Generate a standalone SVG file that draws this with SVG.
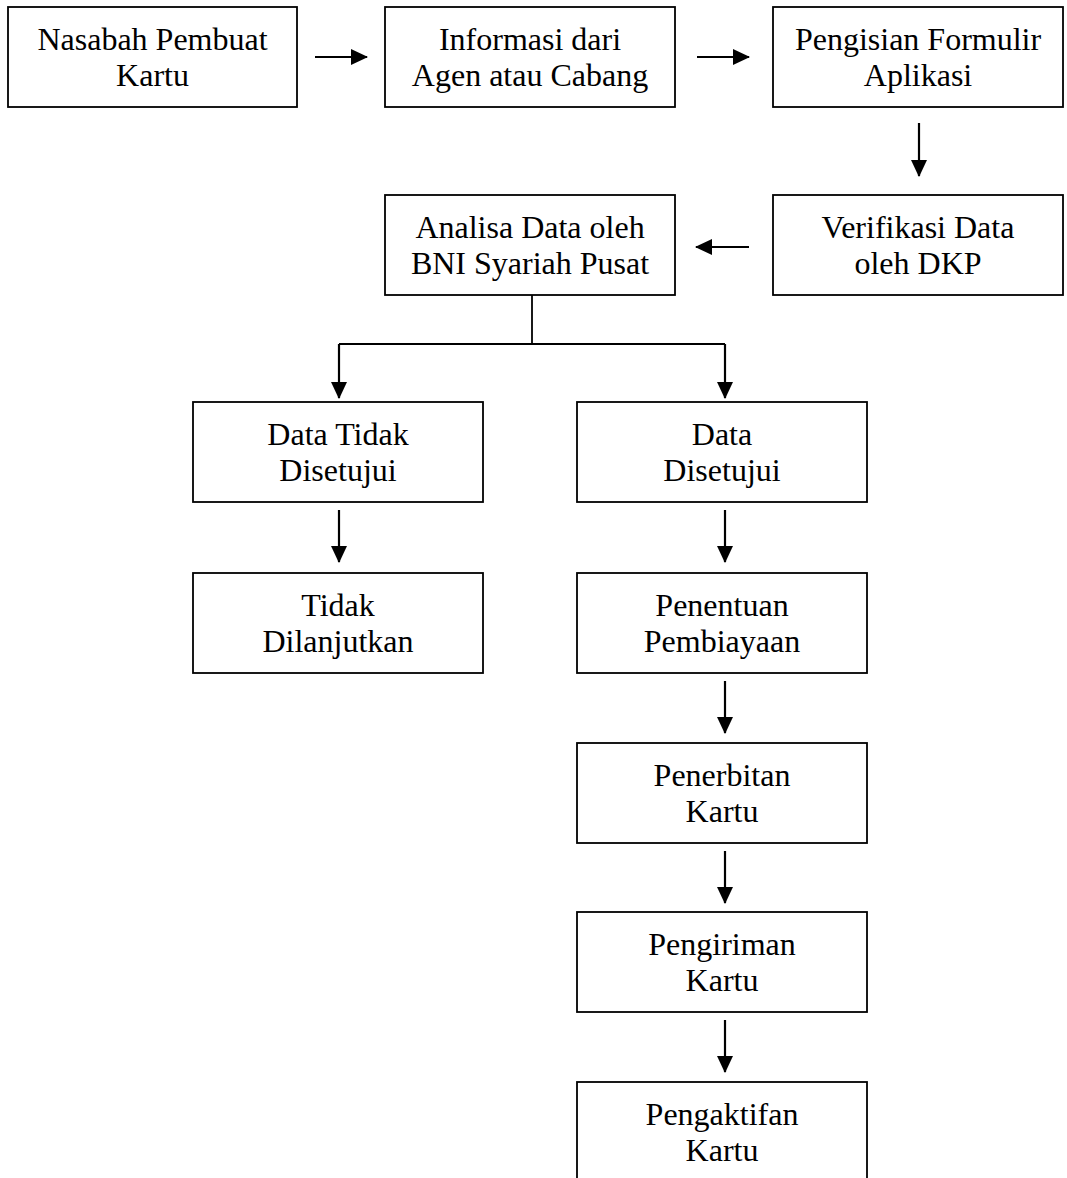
<svg xmlns="http://www.w3.org/2000/svg" width="1067" height="1178" viewBox="0 0 1067 1178">
<style>
.box{fill:#fff;stroke:#000;stroke-width:1.8}
.t{font-family:"Liberation Serif","Times New Roman",serif;font-size:32px;fill:#000;text-anchor:middle}
.c{fill:none;stroke:#000;stroke-width:2.2}
.l{fill:none;stroke:#000;stroke-width:1.8}
</style>
<defs>
<marker id="ah" markerWidth="17" markerHeight="16" refX="16" refY="8" orient="auto" markerUnits="userSpaceOnUse">
<path d="M0,0 L17,8 L0,16 Z" fill="#000"/>
</marker>
</defs>
<rect width="1067" height="1178" fill="#fff"/>
<g id="n1"><rect class="box" x="8" y="7" width="289" height="100"/><text class="t" x="152.5" y="50">Nasabah Pembuat</text><text class="t" x="152.5" y="86">Kartu</text></g>
<g id="n2"><rect class="box" x="385" y="7" width="290" height="100"/><text class="t" x="530" y="50">Informasi dari</text><text class="t" x="530" y="86">Agen atau Cabang</text></g>
<g id="n3"><rect class="box" x="773" y="7" width="290" height="100"/><text class="t" x="918" y="50">Pengisian Formulir</text><text class="t" x="918" y="86">Aplikasi</text></g>
<g id="n4"><rect class="box" x="773" y="195" width="290" height="100"/><text class="t" x="918" y="238">Verifikasi Data</text><text class="t" x="918" y="274">oleh DKP</text></g>
<g id="n5"><rect class="box" x="385" y="195" width="290" height="100"/><text class="t" x="530" y="238">Analisa Data oleh</text><text class="t" x="530" y="274">BNI Syariah Pusat</text></g>
<g id="n6"><rect class="box" x="193" y="402" width="290" height="100"/><text class="t" x="338" y="445">Data Tidak</text><text class="t" x="338" y="481">Disetujui</text></g>
<g id="n7"><rect class="box" x="577" y="402" width="290" height="100"/><text class="t" x="722" y="445">Data</text><text class="t" x="722" y="481">Disetujui</text></g>
<g id="n8"><rect class="box" x="193" y="573" width="290" height="100"/><text class="t" x="338" y="616">Tidak</text><text class="t" x="338" y="652">Dilanjutkan</text></g>
<g id="n9"><rect class="box" x="577" y="573" width="290" height="100"/><text class="t" x="722" y="616">Penentuan</text><text class="t" x="722" y="652">Pembiayaan</text></g>
<g id="n10"><rect class="box" x="577" y="743" width="290" height="100"/><text class="t" x="722" y="786">Penerbitan</text><text class="t" x="722" y="822">Kartu</text></g>
<g id="n11"><rect class="box" x="577" y="912" width="290" height="100"/><text class="t" x="722" y="955">Pengiriman</text><text class="t" x="722" y="991">Kartu</text></g>
<g id="n12"><rect class="box" x="577" y="1082" width="290" height="110"/><text class="t" x="722" y="1125">Pengaktifan</text><text class="t" x="722" y="1161">Kartu</text></g>
<g id="connectors">
<line class="c" x1="315" y1="57" x2="367" y2="57" marker-end="url(#ah)"/>
<line class="c" x1="697" y1="57" x2="749" y2="57" marker-end="url(#ah)"/>
<line class="c" x1="919" y1="123" x2="919" y2="176" marker-end="url(#ah)"/>
<line class="c" x1="749" y1="247" x2="696" y2="247" marker-end="url(#ah)"/>
<polyline class="l" points="532,295 532,344"/>
<polyline class="l" points="339,344 725,344"/>
<line class="c" x1="339" y1="344" x2="339" y2="398" marker-end="url(#ah)"/>
<line class="c" x1="725" y1="344" x2="725" y2="398" marker-end="url(#ah)"/>
<line class="c" x1="339" y1="510" x2="339" y2="562" marker-end="url(#ah)"/>
<line class="c" x1="725" y1="510" x2="725" y2="562" marker-end="url(#ah)"/>
<line class="c" x1="725" y1="681" x2="725" y2="733" marker-end="url(#ah)"/>
<line class="c" x1="725" y1="851" x2="725" y2="903" marker-end="url(#ah)"/>
<line class="c" x1="725" y1="1020" x2="725" y2="1072" marker-end="url(#ah)"/>
</g>
</svg>
